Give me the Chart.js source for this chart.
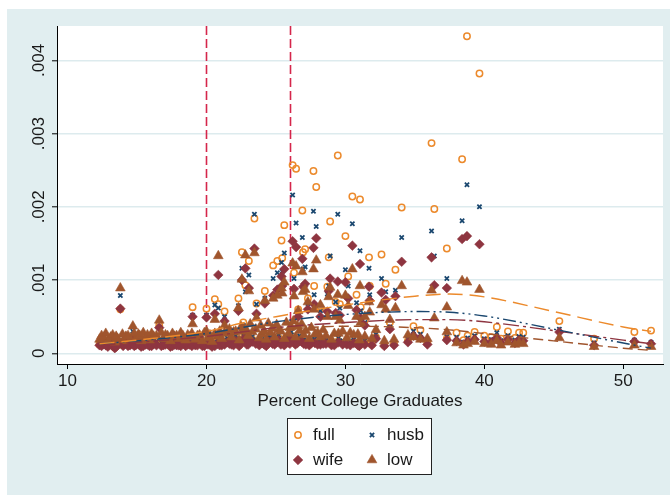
<!DOCTYPE html>
<html>
<head>
<meta charset="utf-8">
<script src="https://cdn.jsdelivr.net/npm/chart.js@4.4.1/dist/chart.umd.min.js"></script>
<style>
  html, body { margin: 0; padding: 0; background: #ffffff; }
  canvas { display: block; }
</style>
</head>
<body>
<canvas id="c" width="670" height="495"></canvas>
<script>
// Percent of college graduates per area (one entry per observation)
const pctGrad = [
  13.8, 16.6, 19.0, 20.0, 20.6, 20.85, 21.3, 22.55, 22.65, 22.8, 23.05, 23.45, 23.6, 24.8, 25.1, 25.4,
  25.45, 25.6, 26.2, 26.3, 26.45, 26.9, 26.95, 27.1, 27.7, 27.75, 27.9, 28.7, 28.8, 28.9, 29.3, 29.45,
  29.6, 30.0, 30.2, 30.5, 30.8, 31.05, 31.1, 31.7, 31.75, 32.6, 32.9, 33.6, 34.05, 36.2, 36.4, 37.3,
  38.4, 38.75, 39.65, 45.4, 47.9, 50.8, 52.0, 27.3, 28.2, 24.2, 22.3, 26.6, 31.4, 33.2,
  12.3, 12.6, 12.9, 13.1, 13.4, 13.6, 14.0, 14.2, 14.5, 14.7, 14.9, 15.1, 15.3, 15.6, 15.9, 16.2,
  16.9, 17.2, 17.4, 17.7, 18.0, 18.3, 18.5, 18.8, 19.2, 19.5, 19.7, 20.1, 20.4, 20.8, 21.1, 21.5,
  21.8, 22.1, 22.35, 22.7, 23.0, 23.3, 23.8, 24.0, 24.3, 24.6, 24.9, 25.2, 25.6, 25.9, 26.1, 26.4,
  26.7, 27.0, 27.4, 27.8, 28.2, 28.6, 29.0, 29.5, 30.1, 30.6, 31.0, 31.4, 31.9, 32.2, 32.8, 33.5,
  34.5, 34.9, 35.4, 35.9, 37.3, 38.0, 38.5, 38.8, 39.3, 40.0, 40.5, 40.9, 41.2, 41.7, 42.2, 42.5, 42.8,
  12.45, 12.75, 13.25, 13.5, 13.95, 14.35, 14.8, 15.2, 15.45, 15.75, 16.05, 16.4, 16.75, 17.05, 17.55, 17.85,
  18.15, 18.65, 18.95, 19.35, 19.85, 20.25, 20.6, 20.95, 21.3, 21.65, 21.95, 22.5, 22.9, 23.15, 23.55, 23.9,
  24.15, 24.45, 24.75, 25.05, 25.35, 25.75, 26.0, 26.25, 26.55, 26.85, 27.15, 27.55, 28.0, 28.4, 29.2, 29.8,
  30.35, 30.9
];

const fullRate = [
  .00060, .00038, .00063, .00061, .00074, .00067, .00057, .00138, .00042, .00093, .00126, .00184, .00068, .00120, .00126, .00154,
  .00130, .00175, .00257, .00110, .00252, .00195, .00138, .00142, .00249, .00092, .00227, .00091, .00131, .00180, .00070, .00270,
  .00067, .00160, .00105, .00214, .00080, .00210, .00063, .00131, .00092, .00135, .00095, .00114, .00199, .00287, .00197, .00143,
  .00265, .00433, .00382, .00044, .00020, .00029, .00031, .00075, .00062, .00085, .00075, .00060, .00045, .00042,
  .00012, .00016, .00010, .00014, .00008, .00013, .00011, .00015, .00012, .00024, .00012, .00016, .00010, .00013, .00011, .00014,
  .00012, .00015, .00010, .00014, .00012, .00015, .00011, .00013, .00012, .00016, .00011, .00013, .00010, .00015, .00012, .00017,
  .00013, .00020, .00011, .00022, .00014, .00019, .00012, .00016, .00011, .00018, .00013, .00021, .00012, .00017, .00024, .00013,
  .00020, .00015, .00012, .00016, .00013, .00015, .00012, .00017, .00013, .00015, .00011, .00014, .00012, .00022, .00011, .00013,
  .00017, .00037, .00032, .00014, .00020, .00028, .00018, .00024, .00029, .00024, .00022, .00036, .00020, .00030, .00021, .00028, .00028,
  .00011, .00013, .00012, .00010, .00014, .00012, .00011, .00013, .00012, .00014, .00011, .00013, .00012, .00014, .00011, .00013,
  .00012, .00014, .00011, .00013, .00012, .00014, .00012, .00013, .00014, .00015, .00013, .00016, .00014, .00018, .00015, .00017,
  .00014, .00018, .00015, .00017, .00014, .00018, .00015, .00019, .00016, .00018, .00014, .00016, .00013, .00015, .00012, .00014,
  .00013, .00012
];

const husbRate = [
  .00079, .00036, .00052, .00052, .00066, .00062, .00050, .00116, .00038, .00084, .00107, .00190, .00067, .00102, .00110, .00124,
  .00112, .00137, .00216, .00102, .00178, .00158, .00115, .00118, .00194, .00080, .00173, .00081, .00092, .00133, .00070, .00190,
  .00062, .00114, .00092, .00177, .00069, .00140, .00058, .00116, .00080, .00102, .00084, .00086, .00158, .00167, .00133, .00102,
  .00181, .00230, .00200, .00033, .00014, .00018, .00015, .00068, .00058, .00075, .00065, .00055, .00042, .00036,
  .00014, .00017, .00012, .00018, .00010, .00016, .00013, .00019, .00015, .00030, .00014, .00021, .00013, .00016, .00014, .00018,
  .00015, .00018, .00012, .00017, .00015, .00019, .00013, .00016, .00015, .00020, .00013, .00017, .00012, .00019, .00015, .00021,
  .00016, .00024, .00013, .00027, .00017, .00023, .00015, .00019, .00014, .00022, .00016, .00025, .00015, .00021, .00029, .00016,
  .00024, .00018, .00014, .00020, .00016, .00018, .00014, .00021, .00016, .00019, .00013, .00017, .00015, .00026, .00013, .00015,
  .00020, .00030, .00026, .00016, .00023, .00022, .00015, .00021, .00024, .00020, .00019, .00028, .00017, .00024, .00018, .00023, .00022,
  .00015, .00016, .00014, .00013, .00017, .00015, .00014, .00016, .00015, .00017, .00014, .00016, .00015, .00017, .00014, .00016,
  .00015, .00017, .00014, .00016, .00015, .00017, .00015, .00016, .00018, .00019, .00016, .00020, .00017, .00022, .00018, .00021,
  .00017, .00022, .00018, .00021, .00017, .00022, .00018, .00023, .00019, .00022, .00017, .00019, .00016, .00018, .00015, .00017,
  .00016, .00015
];

const wifeRate = [
  .00061, .00035, .00050, .00049, .00054, .00107, .00044, .00100, .00032, .00116, .00089, .00143, .00054, .00079, .00087, .00105,
  .00092, .00115, .00153, .00088, .00145, .00129, .00091, .00095, .00144, .00067, .00157, .00057, .00085, .00102, .00055, .00098,
  .00052, .00097, .00075, .00147, .00059, .00122, .00048, .00091, .00072, .00083, .00073, .00078, .00125, .00131, .00093, .00089,
  .00156, .00160, .00149, .00029, .00011, .00016, .00013, .00060, .00050, .00068, .00058, .00050, .00038, .00033,
  .00011, .00013, .00009, .00013, .00007, .00012, .00010, .00014, .00011, .00022, .00011, .00015, .00009, .00012, .00010, .00013,
  .00011, .00013, .00009, .00012, .00011, .00014, .00010, .00012, .00011, .00015, .00010, .00012, .00009, .00013, .00011, .00015,
  .00012, .00017, .00010, .00020, .00012, .00016, .00011, .00014, .00010, .00016, .00012, .00018, .00011, .00015, .00021, .00012,
  .00017, .00013, .00011, .00014, .00012, .00013, .00011, .00015, .00012, .00014, .00010, .00012, .00011, .00020, .00010, .00011,
  .00015, .00024, .00021, .00012, .00018, .00017, .00012, .00016, .00019, .00016, .00015, .00021, .00014, .00019, .00014, .00018, .00017,
  .00010, .00011, .00010, .00009, .00012, .00010, .00010, .00011, .00010, .00012, .00010, .00011, .00010, .00012, .00010, .00011,
  .00010, .00012, .00010, .00011, .00010, .00012, .00010, .00011, .00012, .00013, .00011, .00014, .00012, .00016, .00013, .00015,
  .00012, .00016, .00013, .00015, .00012, .00016, .00013, .00017, .00014, .00016, .00012, .00014, .00012, .00013, .00011, .00012,
  .00011, .00011
];

const lowRate = [
  .00089, .00045, .00040, .00030, .00046, .00133, .00038, .00101, .00030, .00134, .00085, .00137, .00048, .00075, .00079, .00089,
  .00082, .00097, .00123, .00078, .00119, .00111, .00084, .00087, .00115, .00060, .00127, .00050, .00077, .00090, .00050, .00080,
  .00045, .00079, .00065, .00115, .00050, .00092, .00042, .00070, .00056, .00066, .00060, .00062, .00092, .00086, .00048, .00063,
  .00099, .00097, .00087, .00021, .00009, .00011, .00009, .00070, .00066, .00072, .00062, .00058, .00050, .00046,
  .00019, .00021, .00018, .00022, .00015, .00020, .00017, .00023, .00019, .00037, .00019, .00026, .00017, .00021, .00018, .00023,
  .00020, .00024, .00017, .00023, .00020, .00024, .00018, .00022, .00019, .00025, .00017, .00021, .00016, .00023, .00020, .00027,
  .00022, .00030, .00018, .00034, .00024, .00029, .00021, .00026, .00019, .00028, .00022, .00032, .00020, .00027, .00036, .00022,
  .00031, .00025, .00020, .00026, .00022, .00024, .00019, .00027, .00021, .00025, .00018, .00023, .00020, .00032, .00017, .00019,
  .00025, .00022, .00019, .00020, .00029, .00014, .00011, .00013, .00016, .00013, .00012, .00017, .00011, .00015, .00012, .00014, .00013,
  .00024, .00027, .00025, .00023, .00026, .00024, .00027, .00024, .00028, .00025, .00027, .00024, .00028, .00025, .00027, .00024,
  .00028, .00025, .00027, .00024, .00028, .00025, .00027, .00030, .00028, .00033, .00029, .00036, .00031, .00040, .00033, .00038,
  .00030, .00041, .00034, .00039, .00030, .00042, .00035, .00044, .00037, .00040, .00031, .00035, .00028, .00032, .00027, .00030,
  .00028, .00026
];

// Smoothed fits, one value per fit abscissa
const fitX    = [12.3, 15, 20, 22.5, 25, 30, 35, 37.5, 40, 45, 50, 52];
const fitFull = [.00013, .00018, .00030, .00041, .00050, .00066, .00078, .00081, .00077, .00057, .00036, .00030];
const fitHusb = [.00013, .00017, .00027, .00035, .00043, .00053, .00057, .00056, .00051, .00033, .00014, .00007];
const fitWife = [.00011, .00015, .00023, .00029, .00035, .00042, .00046, .00046, .00043, .00031, .00018, .00013];
const fitLow  = [.00012, .00016, .00024, .00028, .00032, .00037, .00035, .00032, .00027, .00017, .00007, .00004];

const refLines = [20, 26];
const xTicks = [10, 20, 30, 40, 50];
const yTicks = [0, .001, .002, .003, .004];
const yTickLabels = ['0', '.001', '.002', '.003', '.004'];
const seriesNames = ['full', 'husb', 'wife', 'low'];

// ---- styling ----
const BG = '#E1EEF0';
const GRID = '#DDEBEE';
const TEXT = '#1a1a1a';
const FONT = { family: "'Liberation Sans', Arial, sans-serif", size: 17 };

const markerStyles = {
  full: { shape: 'circle',   r: 3.2, bw: 1.5, fill: 'rgba(0,0,0,0)', stroke: '#EC8A2C', order: 4 },
  husb: { shape: 'crossRot', r: 3.0, bw: 1.8, fill: '#1A476F',       stroke: '#1A476F', order: 3 },
  wife: { shape: 'rectRot',  r: 4.8, bw: 0.6, fill: '#8E3540',       stroke: '#8E3540', order: 2 },
  low:  { shape: 'triangle', r: 5.6, bw: 0.6, fill: '#A0552D',       stroke: '#A0552D', order: 1 }
};
const fitStyles = {
  full: { color: '#EC8A2C', dash: [15, 7] },
  husb: { color: '#1A476F', dash: [13, 4, 2, 4, 2, 4] },
  wife: { color: '#8E3540', dash: [16, 4, 3, 4] },
  low:  { color: '#A0552D', dash: [10, 5] }
};

const rates = { full: fullRate, husb: husbRate, wife: wifeRate, low: lowRate };
const fits = { full: fitFull, husb: fitHusb, wife: fitWife, low: fitLow };

const datasets = [];
seriesNames.forEach(name => {
  const s = markerStyles[name];
  datasets.push({
    label: name,
    data: pctGrad.map((x, i) => ({ x: x, y: rates[name][i] })),
    pointStyle: s.shape,
    pointRadius: s.r,
    pointBorderWidth: s.bw,
    pointBackgroundColor: s.fill,
    pointBorderColor: s.stroke,
    showLine: false,
    order: s.order
  });
});
seriesNames.forEach(name => {
  const f = fitStyles[name];
  datasets.push({
    label: name + ' fit',
    data: fitX.map((x, i) => ({ x: x, y: fits[name][i] })),
    showLine: true,
    pointRadius: 0,
    borderColor: f.color,
    borderWidth: 1.4,
    borderDash: f.dash,
    fill: false,
    cubicInterpolationMode: 'monotone',
    order: 0
  });
});

function drawMarker(ctx, s, x, y) {
  ctx.save();
  ctx.fillStyle = s.fill;
  ctx.strokeStyle = s.stroke;
  ctx.lineWidth = s.bw;
  Chart.helpers.drawPoint(ctx, { pointStyle: s.shape, radius: s.r, rotation: 0, borderWidth: s.bw }, x, y);
  ctx.restore();
}

const frame = {
  id: 'frame',
  beforeDraw(chart) {
    const { ctx, chartArea: a } = chart;
    ctx.save();
    ctx.fillStyle = '#ffffff';
    ctx.fillRect(0, 0, chart.width, chart.height);
    ctx.fillStyle = BG;
    ctx.fillRect(7, 9, chart.width - 7, chart.height - 9);
    ctx.fillStyle = '#ffffff';
    ctx.fillRect(a.left, a.top, a.right - a.left, a.bottom - a.top);
    ctx.restore();
  },
  beforeDatasetsDraw(chart) {
    const { ctx, chartArea: a } = chart;
    const xs = chart.scales.x;
    ctx.save();
    ctx.strokeStyle = '#D5264B';
    ctx.lineWidth = 1.6;
    ctx.setLineDash([9, 4]);
    refLines.forEach(v => {
      const px = Math.round(xs.getPixelForValue(v)) + 0.5;
      ctx.beginPath();
      ctx.moveTo(px, a.top);
      ctx.lineTo(px, a.bottom);
      ctx.stroke();
    });
    ctx.restore();
  },
  afterDraw(chart) {
    const ctx = chart.ctx;
    ctx.save();
    // legend box
    ctx.fillStyle = '#ffffff';
    ctx.fillRect(287.5, 418.5, 144, 56);
    ctx.strokeStyle = '#222';
    ctx.lineWidth = 1;
    ctx.strokeRect(287.5, 418.5, 144, 56);
    const cols = [298, 372];
    const rows = [435, 460];
    const order = ['full', 'husb', 'wife', 'low'];
    ctx.font = '17px ' + FONT.family;
    ctx.textBaseline = 'middle';
    ctx.textAlign = 'left';
    order.forEach((name, i) => {
      const cx = cols[i % 2];
      const cy = rows[Math.floor(i / 2)];
      drawMarker(ctx, markerStyles[name], cx, cy);
      ctx.fillStyle = TEXT;
      ctx.fillText(name, cx + 15, cy);
    });
    ctx.restore();
  }
};

new Chart(document.getElementById('c'), {
  type: 'scatter',
  data: { datasets: datasets },
  options: {
    responsive: false,
    animation: false,
    devicePixelRatio: 1,
    events: [],
    layout: { padding: { left: 0, right: 7, top: 26, bottom: 0 } },
    plugins: { legend: { display: false }, tooltip: { enabled: false } },
    scales: {
      x: {
        type: 'linear',
        position: 'bottom',
        min: 9.24,
        max: 52.86,
        afterBuildTicks: s => { s.ticks = xTicks.map(v => ({ value: v })); },
        afterFit: s => { s.height = 131; },
        grid: { drawOnChartArea: false, drawTicks: true, tickLength: 5, tickColor: '#000', tickWidth: 1 },
        border: { display: true, color: '#000', width: 1 },
        ticks: { font: FONT, color: TEXT, padding: 2, maxRotation: 0, autoSkip: false, callback: v => String(v) },
        title: { display: true, text: 'Percent College Graduates', font: FONT, color: TEXT, padding: { top: 0, bottom: 83 } }
      },
      y: {
        type: 'linear',
        position: 'left',
        min: -0.000146,
        max: 0.004469,
        afterBuildTicks: s => { s.ticks = yTicks.map(v => ({ value: v })); },
        afterFit: s => { s.width = 57; },
        grid: { color: GRID, lineWidth: 1.6, drawTicks: true, tickLength: 5, tickColor: '#000', tickWidth: 1 },
        border: { display: true, color: '#000', width: 1 },
        ticks: {
          font: FONT, color: TEXT, padding: -3.5, minRotation: 90, maxRotation: 90,
          crossAlign: 'center', autoSkip: false,
          callback: (v, i) => yTickLabels[i]
        }
      }
    }
  },
  plugins: [frame]
});
</script>
</body>
</html>
